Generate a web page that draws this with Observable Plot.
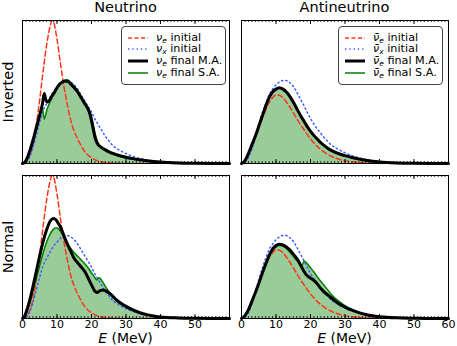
<!DOCTYPE html>
<html>
<head>
<meta charset="utf-8">
<script src="https://cdn.jsdelivr.net/npm/d3@7"></script>
<script src="https://cdn.jsdelivr.net/npm/@observablehq/plot@0.6"></script>
<style>
  html, body { margin: 0; padding: 0; background: #fff; }
  #chart { position: relative; width: 457px; height: 346px; font-family: "DejaVu Sans", sans-serif; color: #000; overflow: hidden; }
  .abs { position: absolute; }
  .title { font-size: 14.5px; white-space: nowrap; transform: translate(-50%, 0); line-height: 16px; }
  .rot { font-size: 14.5px; white-space: nowrap; transform: translate(-50%, -50%) rotate(-90deg); line-height: 16px; }
  .xlab { font-size: 14px; white-space: nowrap; transform: translate(-50%, 0); line-height: 16px; }
  .legend { position: absolute; background: rgba(255,255,255,0.9); border: 1px solid #444; border-radius: 4px; box-sizing: border-box; font-size: 11.2px; }
  .row { position: absolute; left: 0; height: 12px; line-height: 12px; white-space: nowrap; }
  .row svg { position: absolute; left: 6px; top: 1px; }
  .row .lab { position: absolute; left: 34px; top: 0; }
  sub { font-size: 7.5px; vertical-align: -2px; line-height: 0; }
  svg.plot { overflow: visible; }
</style>
</head>
<body>
<div id="chart"></div>
<script>
// ---------- data (energies in MeV, spectra normalised to panel height) ----------
// nu_e initial (same in both hierarchies)
const E_nueInit = [0,1,2,3,4,5,6,7,8,8.6,9,10,11,12,13,14,15,16,17,18,19,20,22,24,26,28,30,60];
const nueInit   = [0,0.01,0.05,0.13,0.27,0.45,0.65,0.83,0.96,1.0,0.99,0.87,0.70,0.54,0.41,0.30,0.225,0.17,0.125,0.085,0.058,0.04,0.017,0.007,0.003,0.001,0,0];
// nu_x initial
const E_nuxInit = [0,1,2,3,4,5,6,7,8,9,10,11,12,13,14,15,16,17,18,19,20,21,22,23,24,25,26,28,30,32,34,36,38,40,43,46,50,55,60];
const nuxInit   = [0,0.01,0.04,0.11,0.20,0.29,0.37,0.42,0.465,0.505,0.535,0.56,0.575,0.58,0.57,0.55,0.52,0.48,0.44,0.40,0.36,0.31,0.27,0.23,0.19,0.16,0.13,0.095,0.07,0.05,0.035,0.025,0.017,0.011,0.006,0.003,0.001,0,0];
// anti nu_e initial
const E_anueInit = [0,1,2,3,4,5,6,7,8,9,10,11,12,13,14,15,16,17,18,19,20,21,22,23,24,26,28,30,32,34,37,40,45,60];
const anueInit   = [0,0.02,0.065,0.125,0.185,0.25,0.315,0.375,0.425,0.46,0.48,0.478,0.46,0.43,0.395,0.355,0.315,0.275,0.24,0.205,0.172,0.143,0.118,0.097,0.079,0.051,0.032,0.02,0.012,0.007,0.003,0.001,0,0];
// anti nu_x initial
const E_anuxInit = [0,1,2,3,4,5,6,7,8,9,10,11,12,13,14,15,16,17,18,19,20,21,22,23,24,25,26,28,30,32,34,36,38,40,43,46,50,55,60];
const anuxInit   = [0,0.01,0.04,0.10,0.18,0.27,0.35,0.42,0.48,0.52,0.55,0.57,0.58,0.58,0.565,0.54,0.50,0.455,0.41,0.36,0.315,0.275,0.24,0.21,0.18,0.155,0.13,0.10,0.075,0.055,0.04,0.028,0.018,0.012,0.006,0.003,0.001,0,0];

// Inverted, neutrino: final multi-angle (M.A.) and single-angle (S.A.)
const E_invNuMA = [0,0.5,1,2,3,4,5,5.8,6.3,6.7,7.2,7.8,8.5,9.3,10,11,12,13,14,15,16,17,18,19,19.5,20,20.5,21,21.5,22,23,24,25,26,28,30,32,35,38,40,45,50,55,60];
const invNuMA   = [0,0.005,0.02,0.08,0.16,0.25,0.34,0.42,0.49,0.45,0.43,0.44,0.47,0.50,0.53,0.56,0.575,0.575,0.555,0.53,0.50,0.46,0.42,0.38,0.35,0.30,0.24,0.185,0.15,0.13,0.11,0.095,0.083,0.072,0.056,0.044,0.034,0.023,0.014,0.01,0.004,0.001,0,0];
const E_invNuSA = [0,0.5,1,2,3,4,5,5.7,6.3,7,7.8,8.5,9.3,10,11,12,13,14,15,16,17,18,19,19.5,20,20.5,21,21.5,22,23,24,25,26,28,30,32,35,38,40,45,50,55,60];
const invNuSA   = [0,0.005,0.02,0.08,0.16,0.25,0.34,0.40,0.31,0.37,0.42,0.46,0.49,0.53,0.56,0.58,0.585,0.565,0.54,0.51,0.47,0.43,0.39,0.365,0.325,0.275,0.215,0.17,0.14,0.11,0.09,0.077,0.066,0.05,0.038,0.029,0.02,0.012,0.009,0.003,0.001,0,0];

// Normal, neutrino
const E_normNuMA = [0,0.5,1,2,3,4,5,6,7,8,8.9,9.5,10,11,12,13,14,15,16,17,18,19,20,21,21.6,22.5,23.3,24,25,26,27,28,30,32,34,36,38,40,45,50,55,60];
const normNuMA   = [0,0.01,0.04,0.12,0.22,0.33,0.44,0.54,0.62,0.68,0.70,0.695,0.68,0.64,0.58,0.52,0.47,0.42,0.39,0.36,0.33,0.285,0.235,0.19,0.182,0.195,0.2,0.195,0.18,0.16,0.135,0.115,0.085,0.06,0.04,0.027,0.017,0.011,0.004,0.001,0,0];
const E_normNuSA = [0,0.5,1,2,3,4,5,6,7,8,9,9.8,10.5,11,12,13,14,15,16,17,18,19,20,21,21.5,22.2,23,24,25,26,27,28,30,32,34,36,38,40,45,50,55,60];
const normNuSA   = [0,0.008,0.03,0.1,0.19,0.28,0.37,0.46,0.535,0.59,0.625,0.635,0.625,0.61,0.57,0.525,0.49,0.46,0.435,0.41,0.385,0.355,0.32,0.285,0.27,0.285,0.265,0.225,0.19,0.16,0.135,0.115,0.085,0.06,0.04,0.027,0.017,0.011,0.004,0.001,0,0];

// Inverted, antineutrino
const E_invAnu = [0,0.3,1,2,3,4,5,6,7,8,9,10,11,12,13,14,15,16,17,18,19,20,21,22,23,24,25,26,28,30,32,34,36,38,40,45,50,55,60];
const invAnuMA = [0,0.003,0.02,0.07,0.13,0.19,0.26,0.33,0.40,0.46,0.50,0.52,0.53,0.52,0.50,0.47,0.43,0.385,0.34,0.30,0.26,0.225,0.195,0.17,0.145,0.125,0.107,0.092,0.07,0.055,0.042,0.032,0.023,0.016,0.011,0.004,0.001,0,0];
const invAnuSA = [0,0.003,0.02,0.07,0.13,0.19,0.26,0.33,0.40,0.46,0.50,0.52,0.53,0.522,0.503,0.474,0.435,0.39,0.346,0.306,0.266,0.231,0.2,0.174,0.149,0.128,0.11,0.094,0.071,0.055,0.042,0.032,0.023,0.016,0.011,0.004,0.001,0,0];

// Normal, antineutrino
const E_normAnuMA = [0,0.3,1,2,3,4,5,6,7,8,9,10,11,12,13,14,15,16,17,18,18.8,19.5,20.5,21.5,22,23,24,25,26,27,28,30,32,34,36,38,40,45,50,55,60];
const normAnuMA   = [0,0.003,0.02,0.06,0.12,0.18,0.245,0.315,0.38,0.44,0.485,0.51,0.52,0.515,0.5,0.48,0.45,0.42,0.38,0.335,0.305,0.29,0.275,0.255,0.24,0.21,0.185,0.165,0.145,0.125,0.107,0.08,0.058,0.041,0.028,0.019,0.013,0.005,0.002,0,0];
const E_normAnuSA = [0,0.3,1,2,3,4,5,6,7,8,9,10,11,12,13,14,15,16,17,17.6,18.2,19,20,21,22,23,24,25,26,27,28,30,32,34,36,38,40,45,50,55,60];
const normAnuSA   = [0,0.003,0.02,0.06,0.12,0.18,0.245,0.315,0.38,0.44,0.48,0.5,0.51,0.505,0.49,0.465,0.435,0.405,0.38,0.375,0.40,0.385,0.355,0.325,0.29,0.26,0.23,0.2,0.17,0.145,0.125,0.09,0.063,0.044,0.028,0.019,0.013,0.005,0.002,0,0];

// axes
const majorTicks = [0,10,20,30,40,50,60];
const minorTicks = d3.range(0, 61, 1);
const leftTickLabels = [0,10,20,30,40,50];
const rightTickLabels = [0,10,20,30,40,50,60];

const columns = ["Neutrino", "Antineutrino"];
const rows = ["Inverted", "Normal"];

// ---------- drawing ----------
const rowsOf = (E, v) => E.map((e, i) => ({E: e, v: v[i]}));
const RED = "#ff3318", BLUE = "#3a5cff", GREEN = "#008000";
const curve = "monotone-x";

const W = 207, H = 143;
function panel({red, blue, black, green, labels}) {
  const bottom = labels != null;
  return Plot.plot({
    width: W, height: H + (bottom ? 20 : 0),
    marginTop: 0, marginLeft: 0, marginRight: 0, marginBottom: bottom ? 20 : 0,
    x: {domain: [0, 60], axis: null},
    y: {domain: [0, 1], axis: null},
    style: {overflow: "visible", background: "transparent", fontFamily: "DejaVu Sans"},
    marks: [
      Plot.areaY(green, {x: "E", y: "v", fill: GREEN, fillOpacity: 0.4, curve}),
      Plot.lineY(red, {x: "E", y: "v", stroke: RED, strokeWidth: 1.5, strokeDasharray: "5,3", curve, clip: true}),
      Plot.lineY(blue, {x: "E", y: "v", stroke: BLUE, strokeWidth: 1.5, strokeDasharray: "1.3,3", curve}),
      Plot.lineY(green, {x: "E", y: "v", stroke: GREEN, strokeWidth: 1.5, curve}),
      Plot.lineY(black, {x: "E", y: "v", stroke: "#000", strokeWidth: 3, curve}),
      Plot.tickX(minorTicks, {x: d => d, insetTop: H - 2, stroke: "#000", strokeWidth: 0.8}),
      Plot.tickX(minorTicks, {x: d => d, insetBottom: H - 2, stroke: "#000", strokeWidth: 0.8}),
      Plot.tickX(majorTicks, {x: d => d, insetTop: H - 4, stroke: "#000", strokeWidth: 1}),
      Plot.tickX(majorTicks, {x: d => d, insetBottom: H - 4, stroke: "#000", strokeWidth: 1}),
      Plot.frame({stroke: "#000", strokeWidth: 1}),
      bottom ? Plot.text(labels, {x: d => d, text: d => String(d), frameAnchor: "bottom", dy: 5.5, lineAnchor: "middle", fontSize: 11, fill: "#000"}) : null
    ]
  });
}

const chart = document.getElementById("chart");
function place(el, left, top) {
  const d = document.createElement("div");
  d.className = "abs";
  d.style.left = left + "px";
  d.style.top = top + "px";
  d.appendChild(el);
  chart.appendChild(d);
  return d;
}
function html(cls, text, left, top) {
  const d = document.createElement("div");
  d.className = "abs " + cls;
  d.innerHTML = text;
  d.style.left = left + "px";
  d.style.top = top + "px";
  chart.appendChild(d);
}

const colX = [22, 241], rowY = [20, 175];

place(panel({red: rowsOf(E_nueInit, nueInit), blue: rowsOf(E_nuxInit, nuxInit),
  black: rowsOf(E_invNuMA, invNuMA), green: rowsOf(E_invNuSA, invNuSA)}), colX[0], rowY[0]);
place(panel({red: rowsOf(E_anueInit, anueInit), blue: rowsOf(E_anuxInit, anuxInit),
  black: rowsOf(E_invAnu, invAnuMA), green: rowsOf(E_invAnu, invAnuSA)}), colX[1], rowY[0]);
place(panel({red: rowsOf(E_nueInit, nueInit), blue: rowsOf(E_nuxInit, nuxInit),
  black: rowsOf(E_normNuMA, normNuMA), green: rowsOf(E_normNuSA, normNuSA), labels: leftTickLabels}), colX[0], rowY[1]);
place(panel({red: rowsOf(E_anueInit, anueInit), blue: rowsOf(E_anuxInit, anuxInit),
  black: rowsOf(E_normAnuMA, normAnuMA), green: rowsOf(E_normAnuSA, normAnuSA), labels: rightTickLabels}), colX[1], rowY[1]);

// titles and labels
html("title", columns[0], colX[0] + W / 2, -1);
html("title", columns[1], colX[1] + W / 2, -1);
html("rot", rows[0], 8, rowY[0] + H / 2);
html("rot", rows[1], 8, rowY[1] + H / 2);
html("xlab", "<i>E</i> (MeV)", colX[0] + W / 2, 330);
html("xlab", "<i>E</i> (MeV)", colX[1] + W / 2, 330);

// legends
function swatch(stroke, width, dash) {
  return `<svg width="20" height="10"><line x1="0" x2="20" y1="5" y2="5" stroke="${stroke}" stroke-width="${width}" ${dash ? `stroke-dasharray="${dash}"` : ""}/></svg>`;
}
function legend(left, top, nu) {
  const d = document.createElement("div");
  d.className = "legend";
  d.style.left = left + "px"; d.style.top = top + "px";
  d.style.width = "105px"; d.style.height = "59px";
  const sub = (s) => `<i>${nu}</i><sub><i>${s}</i></sub>`;
  const items = [
    [swatch(RED, 1.5, "4,2.5"), `${sub("e")} initial`],
    [swatch(BLUE, 1.5, "1.3,3"), `${sub("x")} initial`],
    [swatch("#000", 3), `${sub("e")} final M.A.`],
    [swatch(GREEN, 1.5), `${sub("e")} final S.A.`]
  ];
  items.forEach(([sw, lab], i) => {
    const r = document.createElement("div");
    r.className = "row";
    r.style.top = (4.5 + i * 11.8) + "px";
    r.style.width = "100%";
    r.innerHTML = sw + `<span class="lab">${lab}</span>`;
    d.appendChild(r);
  });
  chart.appendChild(d);
}
legend(121, 26, "ν");
legend(338, 26, "ν̄");
</script>
</body>
</html>
